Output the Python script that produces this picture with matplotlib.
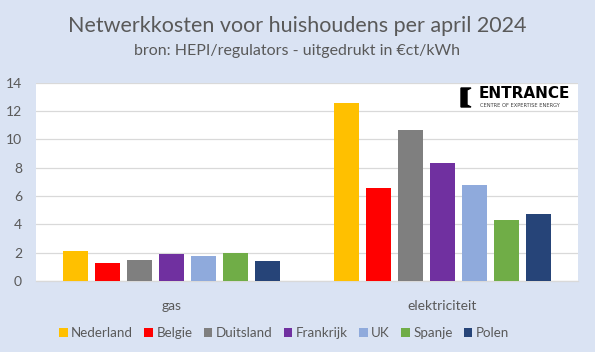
import matplotlib.pyplot as plt
import numpy as np
from matplotlib.patches import Polygon

categories = ['gas', 'elektriciteit']
countries = ['Nederland', 'Belgie', 'Duitsland', 'Frankrijk', 'UK', 'Spanje', 'Polen']
colors = ['#FFC000', '#FF0000', '#7F7F7F', '#7030A0', '#8FAADC', '#70AD47', '#264478']
# waarden per land: [gas, elektriciteit]
nederland = [2.12, 12.55]
belgie = [1.27, 6.57]
duitsland = [1.48, 10.66]
frankrijk = [1.90, 8.33]
uk = [1.77, 6.78]
spanje = [1.98, 4.31]
polen = [1.41, 4.73]
values = [nederland, belgie, duitsland, frankrijk, uk, spanje, polen]

bg = '#DAE3F3'
txt = '#595959'
plt.rcParams['font.family'] = ['Lato', 'DejaVu Sans']

fig = plt.figure(figsize=(5.95, 3.52), dpi=100, facecolor=bg)
ax = fig.add_axes([36 / 595, 1 - 281 / 352, 542 / 595, (281 - 82.7) / 352])
ax.set_facecolor('white')

x = np.arange(len(categories))
step = 32 / 271
width = 25 / 271
for i, (name, vals, c) in enumerate(zip(countries, values, colors)):
    ax.bar(x + (i - 3) * step, vals, width, color=c, label=name, zorder=3)

ax.set_xlim(-0.5, 1.5)
ax.set_ylim(0, 14)
ax.set_yticks(range(0, 15, 2))
ax.set_xticks(x)
ax.set_xticklabels(categories)
ax.tick_params(length=0, colors=txt, labelsize=10)
ax.tick_params(axis='x', pad=14)
ax.tick_params(axis='y', pad=10)
ax.grid(axis='y', color='#D9D9D9', lw=0.9, zorder=0)
for s in ['top', 'right', 'left']:
    ax.spines[s].set_visible(False)
ax.spines['bottom'].set_color('#D9D9D9')
ax.spines['bottom'].set_linewidth(0.9)

fig.text(0.5, 1 - 26 / 352, 'Netwerkkosten voor huishoudens per april 2024',
         ha='center', va='center', fontsize=15.5, color=txt)
fig.text(0.5, 1 - 51.5 / 352, 'bron: HEPI/regulators - uitgedrukt in €ct/kWh',
         ha='center', va='center', fontsize=11.5, color=txt)

leg = fig.legend(loc='center', bbox_to_anchor=(284 / 595, 1 - 333 / 352), ncol=7,
                 frameon=False, fontsize=9.6, handlelength=0.65, handleheight=0.65,
                 handletextpad=0.25, columnspacing=0.85)
for t in leg.get_texts():
    t.set_color(txt)

# logo
fx = lambda px: px / 595
fy = lambda py: 1 - py / 352
icon = Polygon([(fx(461), fy(88)), (fx(471), fy(88)), (fx(467), fy(90)), (fx(467), fy(105)),
                (fx(471), fy(107)), (fx(461), fy(107))], closed=True, color='black',
               transform=fig.transFigure)
fig.patches.append(icon)
fig.text(fx(479), fy(94), 'ENTRANCE', ha='left', va='center', fontsize=11,
         fontweight='bold', family='DejaVu Sans', color='black')
fig.text(fx(480), fy(105.5), 'CENTRE OF EXPERTISE ENERGY', ha='left', va='center',
         fontsize=3.7, family='DejaVu Sans', color='#404040')

fig.savefig('out.png', dpi=100, facecolor=bg)
